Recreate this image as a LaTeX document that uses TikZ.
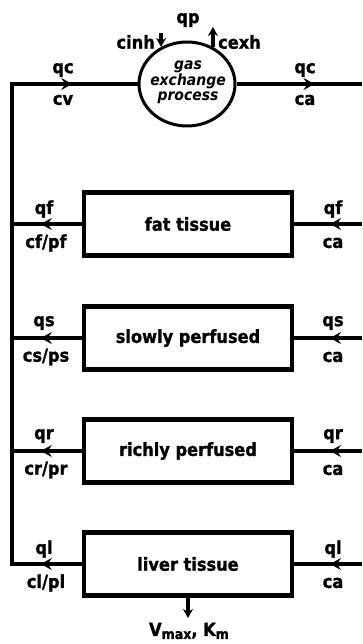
\documentclass[tikz,border=0pt]{standalone}
\usepackage{fontspec}
\setmainfont{DejaVu Sans}[FakeStretch=0.9,BoldFeatures={FakeBold=1.2}]
\usetikzlibrary{arrows.meta,shapes.geometric,decorations.markings}
\begin{document}
\begin{tikzpicture}[x=1pt,y=-1pt,
  font=\bfseries\fontsize{18}{18}\selectfont,
  flowtip/.tip={Stealth[length=11pt,width=12pt,inset=4pt]},
  smalltip/.tip={Stealth[length=9pt,width=10pt,inset=3pt]},
  flow/.style={line width=3.4pt},
  organ/.style={draw,line width=4.4pt,minimum width=208pt,minimum height=63pt,inner sep=0pt},
  tipat/.style={postaction={decorate,decoration={markings,mark=at position #1 with {\arrow{flowtip}}}}},
  lbl/.style={inner sep=0pt},
  feed/.style={line width=3.2pt,-smalltip},
]
\path[use as bounding box] (0,0) rectangle (362,644);

% lung compartment
\node[draw,ellipse,line width=3pt,minimum width=96pt,minimum height=84pt,inner sep=0pt] (gas) at (187,84) {};
\node[lbl,align=center,font=\bfseries\itshape\fontsize{15.5}{15}\selectfont] (gastext) at (188,82) {gas\\exchange\\process};

% tissue compartments
\node[organ] (fat) at (188,224) {fat tissue};
\node[organ] (slow) at (188,338) {slowly perfused};
\node[organ] (rich) at (188,451) {richly perfused};
\node[organ] (liver) at (188,564) {liver tissue};

% venous return and arterial supply ends
\coordinate (vt) at (12,84);
\coordinate (vb) at (12,564);
\coordinate (topR) at (362,84);
\coordinate (fatR) at (362,224);
\coordinate (slowR) at (362,338);
\coordinate (richR) at (362,451);
\coordinate (liverR) at (362,564);

\draw[flow,tipat=41pt,tipat=610pt] (liver.west) -- (vb) -- (vt) -- (gas.west);
\draw[flow,tipat=41pt] (fat.west) -- (fat.west -| vt);
\draw[flow,tipat=41pt] (slow.west) -- (slow.west -| vt);
\draw[flow,tipat=41pt] (rich.west) -- (rich.west -| vt);
\draw[flow,tipat=78pt] (gas.east) -- (topR);
\draw[flow,tipat=32pt] (fatR) -- (fat.east);
\draw[flow,tipat=32pt] (slowR) -- (slow.east);
\draw[flow,tipat=32pt] (richR) -- (rich.east);
\draw[flow,tipat=32pt] (liverR) -- (liver.east);

% inhaled / exhaled air
\coordinate (cinhy) at (0,33);
\coordinate (cexhy) at (0,27);
\draw[feed] (gas.125 |- cinhy) -- (gas.125);
\draw[feed] (gas.55) -- (gas.55 |- cexhy);
\node[lbl] (qp) at (188,20) {qp};
\node[lbl,anchor=east] (cinh) at (155,42) {cinh};
\node[lbl,anchor=west] (cexh) at (218,42) {cexh};

% metabolism
\coordinate (kin) at (188,618);
\draw[feed] (liver.south) -- (kin);
\node[lbl] (vmax) at (189,631) {V\raisebox{-3pt}{\fontsize{14}{14}\selectfont max}, K\raisebox{-3pt}{\fontsize{14}{14}\selectfont m}};

% flow and concentration labels
\node[lbl] (qcL) at (63,70) {qc};
\node[lbl] (cv) at (63,100) {cv};
\node[lbl] (qcR) at (305,70) {qc};
\node[lbl] (caT) at (305,100) {ca};

\node[lbl] (qfL) at (44,209) {qf};
\node[lbl] (cf) at (46,243) {cf/pf};
\node[lbl] (qfR) at (333,209) {qf};
\node[lbl] (caF) at (333,243) {ca};

\node[lbl] (qsL) at (44,323) {qs};
\node[lbl] (cs) at (46,357) {cs/ps};
\node[lbl] (qsR) at (333,323) {qs};
\node[lbl] (caS) at (333,357) {ca};

\node[lbl] (qrL) at (44,436) {qr};
\node[lbl] (cr) at (46,470) {cr/pr};
\node[lbl] (qrR) at (333,436) {qr};
\node[lbl] (caR) at (333,470) {ca};

\node[lbl] (qlL) at (44,549) {ql};
\node[lbl] (cl) at (46,583) {cl/pl};
\node[lbl] (qlR) at (333,549) {ql};
\node[lbl] (caL) at (333,583) {ca};
\end{tikzpicture}
\end{document}
